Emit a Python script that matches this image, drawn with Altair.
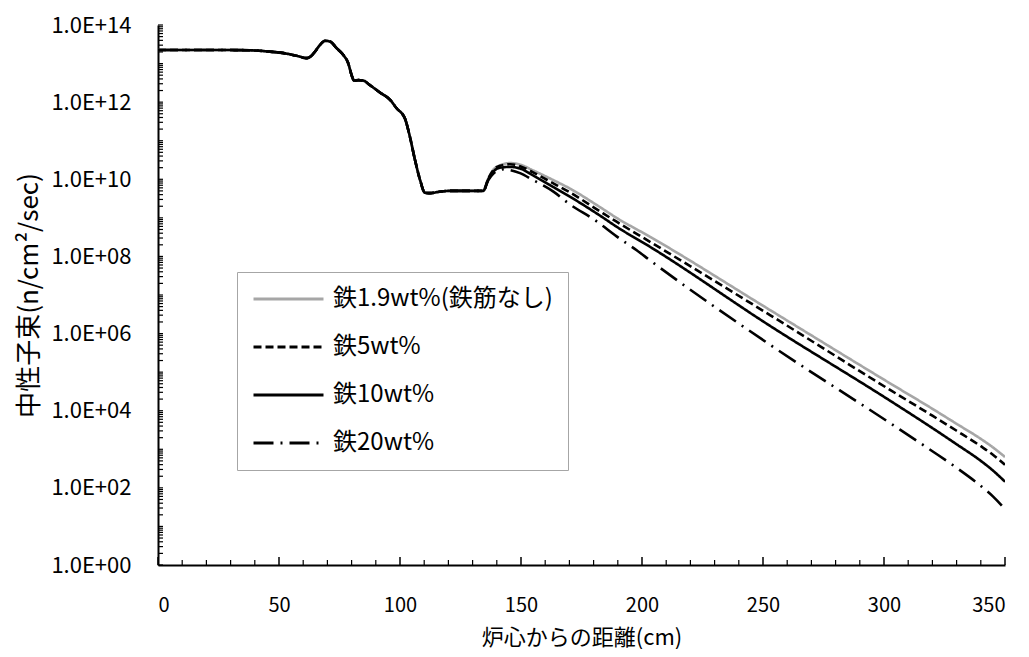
import altair as alt
import pandas as pd

FONT = "Noto Sans CJK JP"

series_names = ["鉄1.9wt%(鉄筋なし)", "鉄5wt%", "鉄10wt%", "鉄20wt%"]
series_colors = ["#a6a6a6", "#000000", "#000000", "#000000"]
series_dashes = [[1, 0], [8, 4], [1, 0], [20, 7, 2, 7]]

# shared part of all four curves (distance cm, log10 of flux)
common_x = [0, 10, 20, 30, 40, 46, 52, 58, 61.4, 63, 64.5, 66.9, 69, 71.1, 73.8, 76.6,
            78.6, 80, 81, 82.8, 84.8, 87.6, 91.7, 95.9, 98.6, 102, 104.1, 106.2, 108.3,
            110.3, 112.4, 116.5, 120.7, 127, 134.4]
common_exp = [13.35, 13.35, 13.35, 13.35, 13.34, 13.31, 13.27, 13.19, 13.14, 13.18, 13.28,
              13.48, 13.59, 13.57, 13.40, 13.22, 13.01, 12.70, 12.56, 12.57, 12.56, 12.44,
              12.25, 12.06, 11.84, 11.58, 11.10, 10.50, 9.98, 9.65, 9.64, 9.68, 9.70, 9.70, 9.70]

tail_x = [136.5, 138.6, 141.3, 145.5, 149.6, 155, 162, 170.2, 182.6, 189.5, 203.3, 252.9,
          302.5, 320, 330, 340, 345, 350]
fe19_exp = [10.02, 10.25, 10.36, 10.42, 10.38, 10.23, 10.02, 9.76, 9.28, 9.00, 8.51, 6.61,
            4.71, 4.05, 3.66, 3.27, 3.05, 2.80]
fe5_exp = [10.02, 10.24, 10.35, 10.39, 10.34, 10.18, 9.94, 9.66, 9.17, 8.90, 8.38, 6.48,
           4.54, 3.87, 3.48, 3.08, 2.86, 2.60]
fe10_exp = [10.00, 10.20, 10.30, 10.32, 10.28, 10.10, 9.85, 9.55, 9.06, 8.77, 8.25, 6.20,
            4.26, 3.55, 3.13, 2.70, 2.45, 2.16]
fe20_x = [136.5, 138.6, 141.3, 143.5, 145.5, 149.6, 155, 163.4, 170.2, 180.6, 189.5, 197.8,
          203.3, 252.9, 302.5, 320, 330, 340, 345, 350]
fe20_exp = [9.98, 10.15, 10.24, 10.26, 10.24, 10.16, 9.98, 9.68, 9.35, 8.94, 8.52, 8.16,
            7.90, 5.71, 3.68, 2.95, 2.52, 2.05, 1.78, 1.45]

tails = [(tail_x, fe19_exp), (tail_x, fe5_exp), (tail_x, fe10_exp), (fe20_x, fe20_exp)]

rows = []
for name, (tx, te) in zip(series_names, tails):
    for x, e in zip(common_x + tx, common_exp + te):
        rows.append({"series": name, "x": x, "flux": 10 ** e})
df = pd.DataFrame(rows)

y_label_values = [1e0, 1e2, 1e4, 1e6, 1e8, 1e10, 1e12, 1e14]
x_label_values = [0, 50, 100, 150, 200, 250, 300, 350]
y_decades = list(range(0, 14))
y_minor_mult = [1, 2, 3, 4, 5, 6, 7, 8, 9]
x_minor_ticks = [10, 20, 30, 40, 60, 70, 80, 90, 110, 120, 130, 140, 160, 170, 180, 190,
                 210, 220, 230, 240, 260, 270, 280, 290, 310, 320, 330, 340]

ytick_df = pd.DataFrame({"v": [m * 10 ** d for d in y_decades for m in y_minor_mult] + [1e14]})
xmaj_df = pd.DataFrame({"v": x_label_values})
xmin_df = pd.DataFrame({"v": x_minor_ticks})

W, H = 847, 540
xscale = alt.Scale(domain=[0, 350], nice=False, zero=False)
yscale = alt.Scale(type="log", domain=[1, 1e14], nice=False)

lines = alt.Chart(df).mark_line(strokeWidth=2.6, interpolate="monotone", clip=True).encode(
    x=alt.X("x:Q", scale=xscale,
            axis=alt.Axis(values=x_label_values, title="炉心からの距離(cm)", ticks=False,
                          labelPadding=30, titlePadding=12, labelFontSize=20,
                          titleFontSize=22, format="d")),
    y=alt.Y("flux:Q", scale=yscale,
            axis=alt.Axis(values=y_label_values, title="中性子束(n/cm²/sec)", ticks=False,
                          labelPadding=27, titlePadding=8, labelFontSize=22,
                          titleFontSize=26,
                          labelExpr="'1.0E+' + (datum.value < 1e10 ? '0' : '') + round(log(datum.value)/LN10)")),
    color=alt.Color("series:N",
                    scale=alt.Scale(domain=series_names, range=series_colors),
                    legend=alt.Legend(orient="none", legendX=79, legendY=247, title=None,
                                      symbolType="stroke", symbolSize=4900,
                                      symbolStrokeWidth=3, labelFontSize=24,
                                      labelFont=FONT, fillColor="white",
                                      strokeColor="#a6a6a6", padding=15,
                                      rowPadding=24, clipHeight=24, labelOffset=8,
                                      labelLimit=400)),
    strokeDash=alt.StrokeDash("series:N",
                              scale=alt.Scale(domain=series_names, range=series_dashes),
                              legend=None),
)

ytk = alt.Chart(ytick_df).mark_rule(color="black", strokeWidth=1.2).encode(
    y=alt.Y("v:Q", scale=yscale), x=alt.value(0), x2=alt.value(5))
xtk_major = alt.Chart(xmaj_df).mark_rule(color="black", strokeWidth=1.5).encode(
    x=alt.X("v:Q", scale=xscale), y=alt.value(H), y2=alt.value(H - 8))
xtk_minor = alt.Chart(xmin_df).mark_rule(color="black", strokeWidth=1.2).encode(
    x=alt.X("v:Q", scale=xscale), y=alt.value(H), y2=alt.value(H - 5))

chart = alt.layer(lines, ytk, xtk_major, xtk_minor).properties(
    width=W, height=H,
    autosize=alt.AutoSizeParams(type="none"),
    padding={"left": 150, "top": 17, "right": 16, "bottom": 84},
).configure_view(strokeWidth=0).configure_axis(
    grid=False, domainColor="black", domainWidth=2, labelColor="black",
    titleColor="black", labelFont=FONT, titleFont=FONT, titleFontWeight="normal",
)

chart.save("out.html", embed_options={"renderer": "svg", "actions": False})
